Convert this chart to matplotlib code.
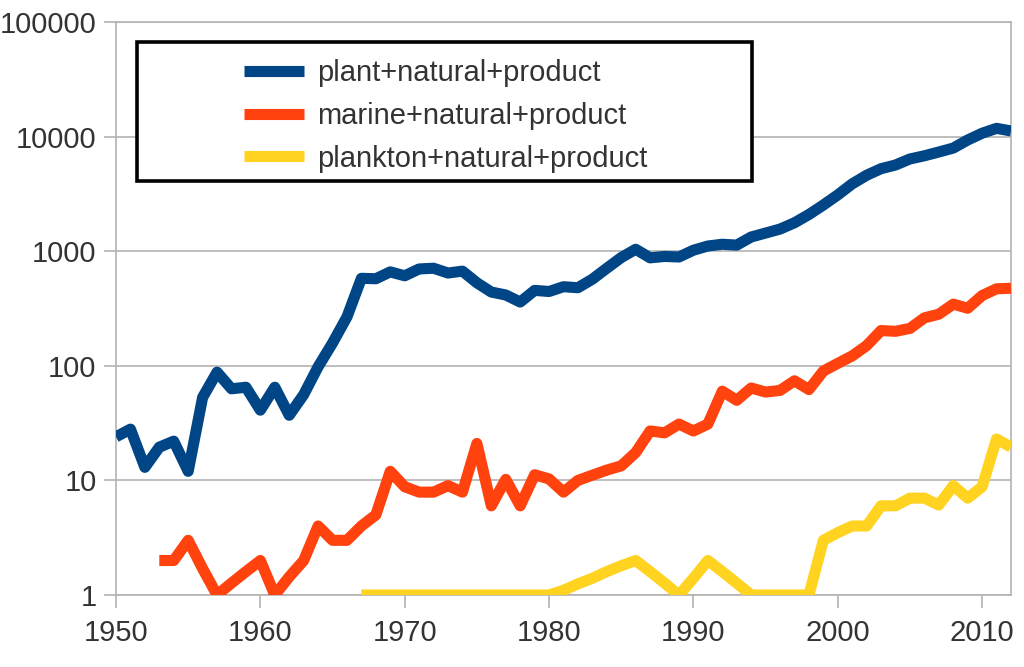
import matplotlib
matplotlib.use("Agg")
import matplotlib.pyplot as plt
from matplotlib.patches import Rectangle

plt.rcParams['font.family'] = ['Liberation Sans', 'DejaVu Sans']

plant_years = list(range(1950, 2013))
plant_values = [24, 28, 13, 19.5, 22, 12, 53, 88, 63, 65, 41, 65, 37, 56, 98, 158, 267,
                580, 575, 660, 610, 700, 710, 645, 670, 530, 440, 415, 360, 455, 445,
                490, 480, 570, 710, 880, 1040, 875, 900, 890, 1020, 1110, 1150, 1130,
                1330, 1440, 1560, 1770, 2090, 2530, 3100, 3870, 4600, 5250, 5650, 6380,
                6800, 7340, 7940, 9340, 10700, 11800, 11200]

marine_years = list(range(1953, 2013))
marine_values = [2.0, 2.0, 3.0, 1.7, 1.0, 1.27, 1.6, 2.0, 1.0, 1.44, 2.0, 4.0, 3.0, 3.0,
                 4.0, 5.0, 12.0, 8.8, 7.9, 7.9, 9.0, 7.9, 21.0, 6.0, 10.2, 6.0, 11.2,
                 10.3, 7.9, 10.0, 11.1, 12.3, 13.4, 17.5, 27, 26, 31, 27, 31, 60, 50, 64,
                 59, 61, 74, 62, 90, 105, 122, 150, 203, 200, 212, 262, 282, 345, 318,
                 410, 470, 475]

plankton_years = list(range(1967, 2013))
plankton_values = [1, 1, 1, 1, 1, 1, 1, 1, 1, 1, 1, 1, 1, 1, 1.1, 1.25, 1.4, 1.6, 1.8, 2.0,
                   1.6, 1.27, 1.0, 1.4, 2.0, 1.6, 1.27, 1, 1, 1, 1, 1, 3.0, 3.5, 4.0, 4.0,
                   6.0, 6.0, 7.0, 7.0, 6.1, 9.0, 7.0, 8.8, 23, 19.5]

series_labels = ["plant+natural+product", "marine+natural+product", "plankton+natural+product"]
series_colors = ["#004586", "#ff420e", "#ffd320"]
x_ticks = [1950, 1960, 1970, 1980, 1990, 2000, 2010]
y_ticks = [1, 10, 100, 1000, 10000, 100000]
y_tick_labels = ["1", "10", "100", "1000", "10000", "100000"]

fig = plt.figure(figsize=(10.24, 6.67), dpi=100)
ax = fig.add_axes([116 / 1024, 1 - 595 / 667, (1011 - 116) / 1024, (595 - 22) / 667])

lines = []
for xs, ys, lab, col in zip([plant_years, marine_years, plankton_years],
                            [plant_values, marine_values, plankton_values],
                            series_labels, series_colors):
    ln, = ax.plot(xs, ys, color=col, lw=8, label=lab, solid_joinstyle='round',
                  solid_capstyle='butt', zorder=3)
    lines.append(ln)

ax.set_yscale('log')
ax.set_ylim(1, 100000)
ax.set_xlim(1950, 2012)
ax.set_yticks(y_ticks)
ax.set_yticklabels(y_tick_labels)
ax.minorticks_off()
ax.set_xticks(x_ticks)
ax.set_xticklabels([str(t) for t in x_ticks])

grid_col = "#b3b3b3"
ax.yaxis.grid(True, color=grid_col, lw=1.2, zorder=0)
ax.xaxis.grid(False)
for s in ax.spines.values():
    s.set_color(grid_col)
    s.set_linewidth(1.2)
ax.tick_params(axis='both', which='major', length=9, width=1.2, color=grid_col,
               labelsize=21, labelcolor="#333333", direction='out', pad=5)
ax.tick_params(axis='x', pad=8)

# Legend box
ax.add_patch(Rectangle((0.0235, 0.7225), 0.6875, 0.2425, transform=ax.transAxes,
                       facecolor='white', edgecolor='black', lw=2.6, zorder=5))
leg = ax.legend(handles=lines, loc='upper left', bbox_to_anchor=(0.133, 0.95),
                frameon=False, fontsize=21, handlelength=2.05, handletextpad=0.45,
                labelspacing=0.5, borderpad=0.3, borderaxespad=0)
leg.set_zorder(6)
for t in leg.get_texts():
    t.set_color("#333333")
for h in leg.get_lines():
    h.set_linewidth(8)

fig.savefig("out.png", dpi=100)
